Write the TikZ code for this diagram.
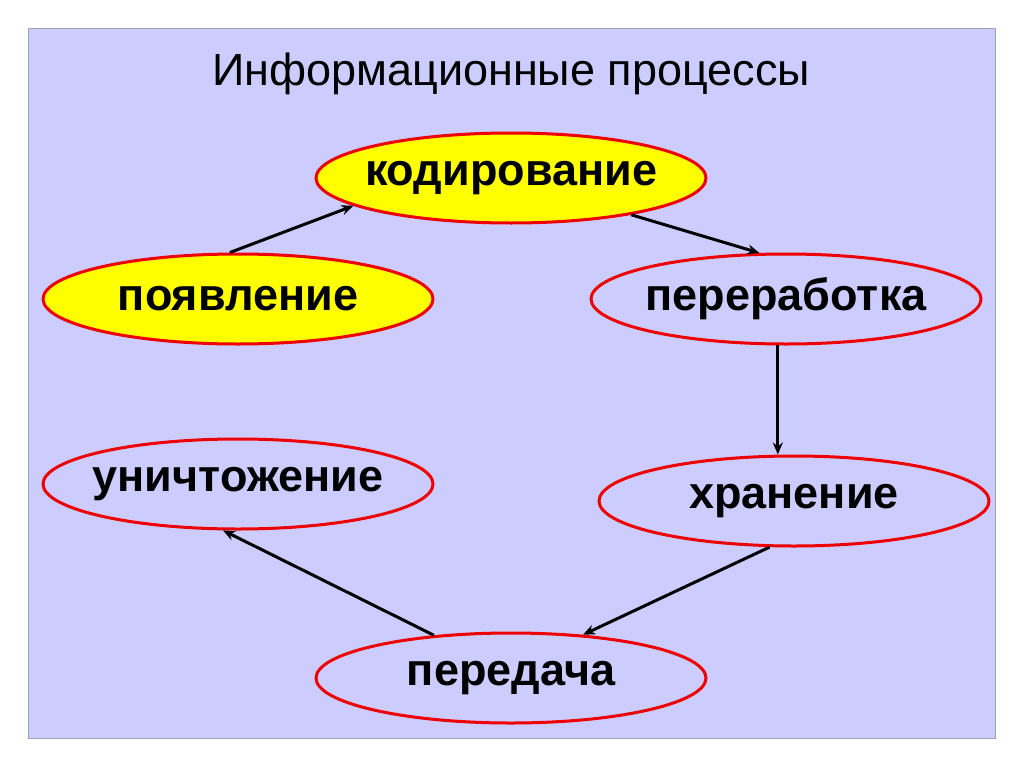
\documentclass[tikz,border=0pt]{standalone}
\usepackage{fontspec}
\setmainfont{Liberation Sans}
\usetikzlibrary{shapes.geometric,arrows.meta}
\definecolor{lavbg}{HTML}{CCCCFF}
\definecolor{frame}{HTML}{A0A0B0}
\definecolor{ellred}{HTML}{EE0000}
\definecolor{ellyel}{HTML}{FFFF00}
\newcommand{\nolen}[1]{\makebox[0pt]{#1}}
\tikzset{
  proc/.style={ellipse, draw=ellred, line width=3pt, inner sep=0pt,
    minimum width=390pt, minimum height=90pt,
    font=\fontsize{45}{54}\selectfont\bfseries},
  yel/.style={proc, fill=ellyel},
  conn/.style={line width=3pt, -{Stealth[length=12pt,width=10pt]}}
}
\begin{document}
\begin{tikzpicture}[x=1pt,y=-1pt]
\useasboundingbox (0,0) rectangle (1024,768);
\fill[white] (0,0) rectangle (1024,768);
\draw[frame, fill=lavbg, line width=1pt] (28,29) rectangle (995,738);
\node[font=\fontsize{45}{54}\selectfont, anchor=base] (title) at (511,85) {Информационные процессы};
\node[yel] (kod) at (511,178) {\nolen{кодирование}};
\node[yel] (pojav) at (238,299) {\nolen{появление}};
\node[proc] (perer) at (786,299) {\nolen{переработка}};
\node[proc] (unich) at (238,484) {\nolen{уничтожение}};
\node[proc] (hran) at (794,501) {\nolen{хранение}};
\node[proc] (pered) at (511,678) {\nolen{передача}};
\draw[conn] (pojav.100) -- (kod.190);
\draw[conn] (kod.343) -- (perer.120);
\draw[conn] (perer.260) -- (perer.260 |- hran.north);
\draw[conn] (hran.242) -- (pered.31);
\draw[conn] (pered.151) -- (unich.252);
\end{tikzpicture}
\end{document}
